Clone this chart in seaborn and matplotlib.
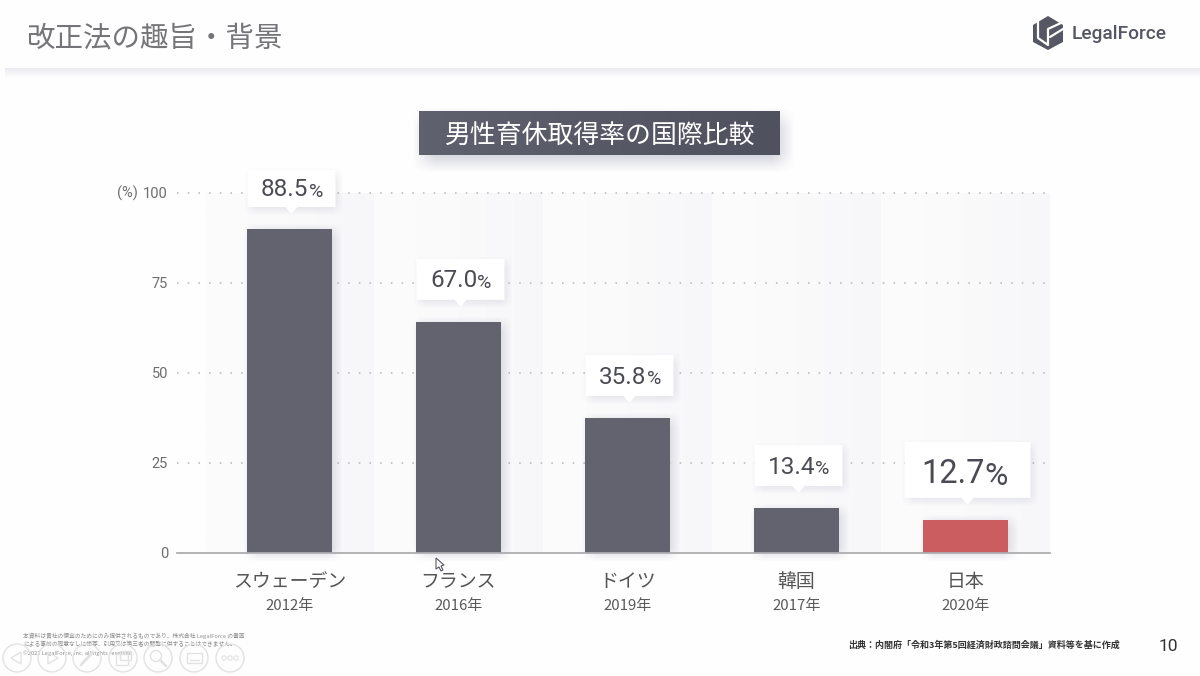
import numpy as np
import pandas as pd
import matplotlib
matplotlib.use('Agg')
import matplotlib.pyplot as plt
from matplotlib.colors import LinearSegmentedColormap, to_rgb
from matplotlib.patches import Rectangle, Polygon, Circle
import seaborn as sns

# -------------------------------
# data
# -------------------------------
countries = ['スウェーデン', 'フランス', 'ドイツ', '韓国', '日本']
years = ['2012年', '2016年', '2019年', '2017年', '2020年']
# bar heights as drawn on the slide, they differ from the printed labels
bar_heights = [90.0, 64.2, 37.5, 12.5, 9.2]
value_labels = ['88.5', '67.0', '35.8', '13.4', '12.7']
bar_colors = ['#62636f', '#62636f', '#62636f', '#62636f', '#cb5c60']
y_ticks = [0, 25, 50, 75, 100]

page_title = '改正法の趣旨・背景'
chart_title = '男性育休取得率の国際比較'
source_note = '出典：内閣府「令和3年第5回経済財政諮問会議」資料等を基に作成'
legal_lines = ['本資料は貴社の便宜のためにのみ提供されるものであり、株式会社 LegalForce の書面',
               'による事前の同意なしに複写、引用又は第三者の閲覧に供することはできません。',
               '©2022 LegalForce, Inc. all rights reserved.']

W, H = 1200, 676
DARK = '#4b4c53'

sns.set_theme(style='white')
plt.rcParams['font.family'] = ['Noto Sans CJK JP', 'DejaVu Sans']
ROBOTO = ['Roboto', 'DejaVu Sans']

fig = plt.figure(figsize=(W / 100, H / 100), dpi=100, facecolor='#fefefe')


def shadow_rgba(w, h, blur, alpha, color='#5c5f80'):
    # soft rectangle of w x h pixels, with a blurred edge on every side
    xs = np.arange(-blur, w + blur + 1)
    ys = np.arange(-blur, h + blur + 1)
    ramp_x = np.clip(np.minimum(xs + blur, w + blur - xs) / (2 * blur), 0, 1)
    ramp_y = np.clip(np.minimum(ys + blur, h + blur - ys) / (2 * blur), 0, 1)
    mask = np.outer(ramp_y, ramp_x) * alpha
    rgba = np.zeros(mask.shape + (4,))
    rgba[..., :3] = to_rgb(color)
    rgba[..., 3] = mask
    return rgba


# -------------------------------
# chart
# -------------------------------
ax = fig.add_axes([177 / W, (H - 553) / H, 873 / W, 360 / H])
ax.set_facecolor('none')
df = pd.DataFrame({'country': countries, 'height': bar_heights})
sns.barplot(data=df, x='country', y='height', hue='country', palette=bar_colors,
            width=0.505, legend=False, saturation=1, linewidth=0, ax=ax, zorder=3)

# soft column bands behind the bars
band_cmap = LinearSegmentedColormap.from_list('band', ['#fcfcfd', '#fafafb', '#f7f7fa'])
for i in range(len(countries)):
    ax.imshow(np.linspace(0, 1, 64).reshape(1, -1), cmap=band_cmap, aspect='auto',
              extent=(i - 0.5, i + 0.5, 0, 100), zorder=0, vmin=0, vmax=1)

# bar shadows
px_x, px_y = 1 / 169, 1 / 3.6
for bar in list(ax.patches):
    bw, bh = bar.get_width() / px_x, bar.get_height() / px_y
    blur = 7
    x0 = bar.get_x() + 3 * px_x
    ax.imshow(shadow_rgba(int(bw), int(bh), blur, 0.22), aspect='auto', zorder=2, clip_on=False,
              extent=(x0 - blur * px_x, x0 + (bw + blur) * px_x,
                      -(blur + 2) * px_y, (bh - 2 + blur) * px_y))

ax.set_xlim(-0.5 - 28 / 169, 4.5)
ax.set_ylim(0, 100)
ax.set_xlabel('')
ax.set_ylabel('')
ax.set_yticks(y_ticks)
ax.set_yticklabels(y_ticks, fontsize=10.5, color='#6e6e6e', family=ROBOTO)
ax.set_xticks(range(len(countries)))
ax.set_xticklabels(countries, fontsize=13.6, color='#555555')
ax.tick_params(axis='x', length=0, pad=13)
ax.tick_params(axis='y', length=0, pad=6.5)
ax.grid(False)
for v in y_ticks[1:]:
    ax.axhline(v, color='#b5b5b5', lw=1.1, ls=(0, (1, 6)), zorder=1, clip_on=False)
sns.despine(ax=ax, left=True, top=True, right=True)
ax.spines['bottom'].set_color('#adadb0')
ax.spines['bottom'].set_linewidth(1.3)
ax.spines['bottom'].set_zorder(4)

for i, year in enumerate(years):
    ax.annotate(year, xy=(i, 0), xycoords=('data', 'axes fraction'), xytext=(0, -38),
                textcoords='offset points', ha='center', va='center',
                fontsize=10.8, color='#5a5a5a')

# -------------------------------
# slide furniture in pixel coordinates
# -------------------------------
ov = fig.add_axes([0, 0, 1, 1], zorder=10)
ov.axis('off')


def box_shadow(x0, y0, x1, y1, blur, alpha, zorder=1):
    ov.imshow(shadow_rgba(int(x1 - x0), int(y1 - y0), blur, alpha), aspect='auto', zorder=zorder,
              extent=(x0 - blur, x1 + blur, y1 + blur, y0 - blur))


# header
header_cmap = LinearSegmentedColormap.from_list('hdr', ['#ecebf1', '#fefefe'])
ov.imshow(np.linspace(0, 1, 16).reshape(-1, 1), cmap=header_cmap, aspect='auto',
          extent=(5, W, 78, 68), zorder=1)
ov.text(26, 38.5, page_title, fontsize=20.5, color='#757579', va='center', ha='left')

# logo
ov.add_patch(Polygon([(1048, 16), (1063, 25), (1063, 42), (1048, 50), (1033, 42), (1033, 25)],
                     fc='#565764', ec='none', zorder=2))
ov.plot([1038, 1038, 1048, 1048, 1063], [21, 38, 45, 29, 22], color='#fefefe', lw=1.6, zorder=3)
ov.plot([1050, 1063], [37, 29], color='#fefefe', lw=1.6, zorder=3)
ov.text(1072, 34, 'LegalForce', fontsize=13.8, color='#565764', va='center', ha='left',
        family=ROBOTO, fontweight='medium')

# chart title box
box_shadow(423, 118, 784, 162, 11, 0.3)
title_cmap = LinearSegmentedColormap.from_list('ttl', ['#60616e', '#50515f'])
ov.imshow(np.linspace(0, 1, 64).reshape(1, -1), cmap=title_cmap, aspect='auto',
          extent=(419, 780, 155, 111), zorder=2)
ov.text(600, 135, chart_title, fontsize=18.6, color='#ffffff', ha='center', va='center', zorder=3)

# "(%)" unit next to the top tick
ov.text(117, 193, '(%)', fontsize=10.5, color='#6e6e6e', ha='left', va='center', family=ROBOTO)

# value callouts, positioned from the bars
box_w = [88, 88, 88, 88, 126]
box_h = [37, 41, 41, 41, 56]
num_size = [17.5, 17.5, 17.5, 17.5, 23.5]
pct_size = [14, 14, 14, 14, 23]
for i, (v, lab) in enumerate(zip(bar_heights, value_labels)):
    px, py = ax.transData.transform((i, v))
    py = H - py
    cx = px + 2
    bottom = py - 22
    top = bottom - box_h[i]
    left, right = cx - box_w[i] / 2, cx + box_w[i] / 2
    box_shadow(left + 2, top + 3, right + 2, bottom + 3, 6, 0.16, zorder=4)
    ov.add_patch(Polygon([(left, top), (right, top), (right, bottom), (cx + 6, bottom),
                          (cx, bottom + 7), (cx - 6, bottom), (left, bottom)],
                         fc='#ffffff', ec='none', zorder=5))
    cy = (top + bottom) / 2 + (1.5 if i < 4 else 4)
    ov.text(cx + 17, cy, lab, fontsize=num_size[i], color=DARK, ha='right', va='center',
            family=ROBOTO, zorder=6)
    ov.text(cx + 17, cy + (2 if i < 4 else 3), '%', fontsize=pct_size[i], color=DARK, ha='left',
            va='center', family=ROBOTO, zorder=6)

# footer
for j, line in enumerate(legal_lines):
    ov.text(23, 636 + j * 8.6, line, fontsize=4.15, color='#8d8d8d', va='center', ha='left', zorder=2)
ov.text(848, 645.5, source_note, fontsize=6.5, color='#333333', fontweight='bold', va='center', ha='left')
ov.text(1168, 646.5, '10', fontsize=12.5, color='#333333', ha='center', va='center', family=ROBOTO)

# presenter controls
ctrl_x = [17, 52, 87, 123, 158, 194, 230]
c = '#e2e2e2'
for x in ctrl_x:
    ov.add_patch(Circle((x, 658), 14, fc='none', ec=c, lw=1.0, zorder=3))
ov.add_patch(Polygon([(11, 658), (21, 652), (21, 664)], fc='none', ec=c, lw=1, zorder=3))
ov.add_patch(Polygon([(58, 658), (48, 652), (48, 664)], fc='none', ec=c, lw=1, zorder=3))
ov.plot([81, 93], [665, 652], color=c, lw=2, zorder=3)
ov.add_patch(Rectangle((116, 654), 12, 11, fc='none', ec=c, lw=1, zorder=3))
ov.add_patch(Rectangle((120, 651), 11, 9, fc='none', ec=c, lw=1, zorder=3))
ov.add_patch(Circle((156, 656), 5.5, fc='none', ec=c, lw=1, zorder=3))
ov.plot([160, 166], [660, 666], color=c, lw=1.8, zorder=3)
ov.add_patch(Rectangle((187, 653), 15, 10, fc='none', ec=c, lw=1, zorder=3))
ov.plot([190, 199], [660, 660], color=c, lw=1, zorder=3)
for dx in (-6, 0, 6):
    ov.add_patch(Circle((230 + dx, 658), 2.2, fc='none', ec=c, lw=0.8, zorder=3))

# mouse pointer captured on the slide
ov.add_patch(Polygon([(436, 558), (436, 569), (439, 567), (441, 571), (443, 570), (441, 566), (444, 565)],
                     fc='#ffffff', ec='#55555f', lw=0.8, zorder=8))

ov.set_xlim(0, W)
ov.set_ylim(H, 0)

fig.savefig('out.png', dpi=100, facecolor=fig.get_facecolor())
